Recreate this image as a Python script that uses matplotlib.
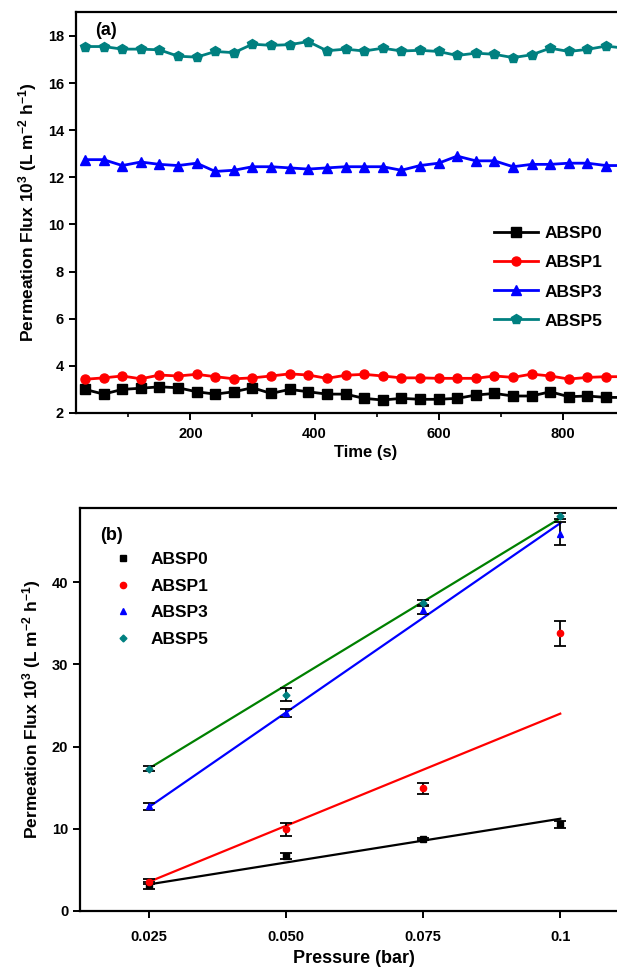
#!/usr/bin/env python3
"""
Permeation flux of ABSP membranes: (a) vs time, (b) vs pressure.
"""

import numpy as np
import matplotlib
matplotlib.use('Agg')
import matplotlib.pyplot as plt
from matplotlib.ticker import MultipleLocator

plt.rcParams['font.family'] = ['Liberation Sans', 'DejaVu Sans']
plt.rcParams['font.weight'] = 'bold'
plt.rcParams['axes.labelweight'] = 'bold'
plt.rcParams['mathtext.fontset'] = 'custom'
plt.rcParams['mathtext.rm'] = 'Liberation Sans:bold'
plt.rcParams['mathtext.default'] = 'rm'

# ---------------------------------------------------------------------------
# Data: panel (a) flux vs time
# ---------------------------------------------------------------------------
time_s = list(range(30, 901, 30))
absp0_t = [3.00, 2.80, 3.00, 3.05, 3.11, 3.07, 2.90, 2.80, 2.90, 3.07,
           2.83, 3.00, 2.90, 2.80, 2.80, 2.62, 2.55, 2.62, 2.58, 2.58,
           2.62, 2.76, 2.83, 2.72, 2.72, 2.90, 2.69, 2.72, 2.66, 2.66]
absp1_t = [3.43, 3.49, 3.57, 3.45, 3.61, 3.57, 3.64, 3.54, 3.45, 3.49,
           3.57, 3.66, 3.61, 3.47, 3.60, 3.64, 3.57, 3.49, 3.49, 3.47,
           3.47, 3.47, 3.57, 3.51, 3.65, 3.57, 3.44, 3.51, 3.54, 3.54]
absp3_t = [12.75, 12.75, 12.50, 12.65, 12.55, 12.50, 12.60, 12.25, 12.30, 12.45,
           12.45, 12.40, 12.35, 12.40, 12.45, 12.45, 12.45, 12.30, 12.50, 12.60,
           12.90, 12.70, 12.70, 12.45, 12.55, 12.55, 12.60, 12.60, 12.50, 12.50]
absp5_t = [17.55, 17.55, 17.44, 17.44, 17.41, 17.14, 17.10, 17.34, 17.29, 17.65,
           17.60, 17.63, 17.76, 17.37, 17.44, 17.36, 17.48, 17.36, 17.39, 17.34,
           17.17, 17.27, 17.22, 17.08, 17.20, 17.48, 17.34, 17.43, 17.57, 17.48]

# ---------------------------------------------------------------------------
# Data: panel (b) flux vs pressure
# ---------------------------------------------------------------------------
pressure = [0.025, 0.050, 0.075, 0.1]
absp0_p = [3.1, 6.65, 8.7, 10.5]
absp0_err = [0.4, 0.4, 0.15, 0.4]
absp1_p = [3.5, 9.9, 14.9, 33.8]
absp1_err = [0.3, 0.75, 0.7, 1.5]
absp3_p = [12.7, 24.1, 36.6, 45.9]
absp3_err = [0.4, 0.5, 0.5, 1.4]
absp5_p = [17.3, 26.3, 37.5, 48.1]
absp5_err = [0.3, 0.8, 0.3, 0.4]

# linear trend lines (end values at 0.025 and 0.1 bar)
fit_x = [0.025, 0.1]
absp0_fit = [3.2, 11.2]
absp1_fit = [3.5, 24.0]
absp3_fit = [12.6, 47.2]
absp5_fit = [17.3, 47.8]

labels = ['ABSP0', 'ABSP1', 'ABSP3', 'ABSP5']
colors = ['black', 'red', 'blue', '#008080']
markers = ['s', 'o', '^', 'p']
fit_colors = ['black', 'red', 'blue', '#008000']

ylab = r'Permeation Flux 10$^{3}$ (L m$^{-2}$ h$^{-1}$)'

# ---------------------------------------------------------------------------
# Figure
# ---------------------------------------------------------------------------
fig = plt.figure(figsize=(6.17, 9.74), dpi=100)

# axes stretch past the right edge, as in the original crop
ax1 = fig.add_axes([0.1227, 0.576, 0.94, 0.4113])
ax2 = fig.add_axes([0.1297, 0.065, 0.8895, 0.413])

for ax in (ax1, ax2):
    for sp in ax.spines.values():
        sp.set_linewidth(1.6)
    ax.tick_params(direction='out', width=1.4, length=5, labelsize=10.5)
    ax.tick_params(which='minor', direction='out', width=1.2, length=3)

# --- panel (a) ---
for y, lab, c, m in zip([absp0_t, absp1_t, absp3_t, absp5_t], labels, colors, markers):
    ms = 7.5 if m == 'p' else 6.5
    ax1.plot(time_s, y, color=c, marker=m, markersize=ms, linewidth=2, label=lab)

ax1.set_xlim(15, 950)
ax1.set_ylim(2, 19)
ax1.xaxis.set_major_locator(MultipleLocator(200))
ax1.xaxis.set_minor_locator(MultipleLocator(100))
ax1.yaxis.set_major_locator(MultipleLocator(2))
ax1.tick_params(axis='x', pad=5)
ax1.set_xlabel('Time (s)', fontsize=12, labelpad=3)
ax1.set_ylabel(ylab, fontsize=12.5, labelpad=6)
ax1.text(0.033, 0.975, '(a)', transform=ax1.transAxes, fontsize=13,
         fontweight='bold', va='top')
ax1.legend(loc='upper left', bbox_to_anchor=(0.695, 0.505), frameon=False,
           fontsize=12.5, handlelength=2.5, labelspacing=0.8,
           handletextpad=0.4)

# --- panel (b) ---
for y, err, fit, lab, c, fc, m in zip(
        [absp0_p, absp1_p, absp3_p, absp5_p],
        [absp0_err, absp1_err, absp3_err, absp5_err],
        [absp0_fit, absp1_fit, absp3_fit, absp5_fit],
        labels, colors, fit_colors, ['s', 'o', '^', 'D']):
    ax2.plot(fit_x, fit, color=fc, linewidth=1.6, zorder=2)
    ax2.errorbar(pressure, y, yerr=err, fmt='none', ecolor='black',
                 elinewidth=1.3, capsize=4, capthick=1.3, zorder=3)
    ms = 3.5 if m == 'D' else 4.5
    ax2.plot(pressure, y, linestyle='none', marker=m, color=c,
             markersize=ms, label=lab, zorder=4)

ax2.set_xlim(0.0125, 0.1125)
ax2.set_ylim(0, 49)
ax2.set_xticks(pressure)
ax2.set_xticklabels(['0.025', '0.050', '0.075', '0.1'])
ax2.yaxis.set_major_locator(MultipleLocator(10))
ax2.tick_params(axis='x', pad=9)
ax2.set_xlabel('Pressure (bar)', fontsize=13, labelpad=4)
ax2.set_ylabel(ylab, fontsize=12.5, labelpad=6)
ax2.text(0.037, 0.955, '(b)', transform=ax2.transAxes, fontsize=13,
         fontweight='bold', va='top')
ax2.legend(loc='upper left', bbox_to_anchor=(0.03, 0.93), frameon=False,
           fontsize=12.5, handlelength=1.2, labelspacing=0.65,
           handletextpad=1.0)

fig.savefig('out.png', dpi=100)
plt.close(fig)
